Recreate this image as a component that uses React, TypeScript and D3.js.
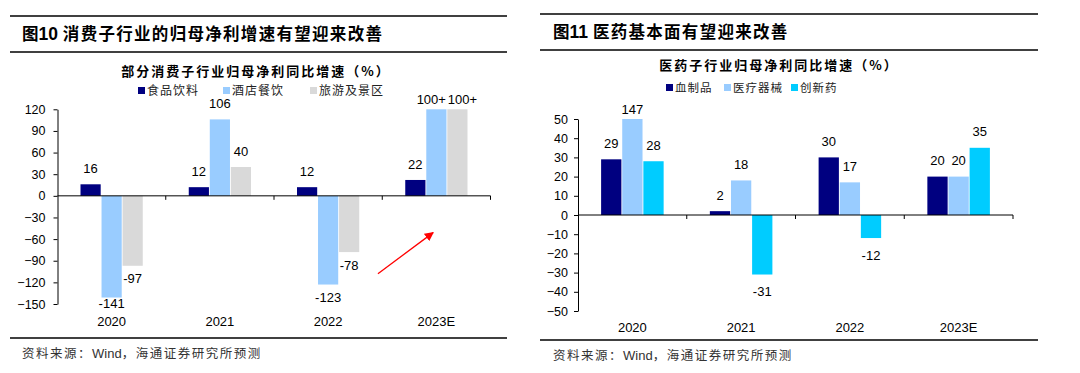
import React, { useEffect, useRef } from 'react';
import * as d3 from 'd3';

// categories shared by both panels
const categories = ['2020', '2021', '2022', '2023E'];

// left panel: consumer sub-sectors
const consumerSeries = ['食品饮料', '酒店餐饮', '旅游及景区'];
const foodBeverage = [16, 12, 12, 22];
const hotelCatering = [-141, 106, -123, 120]; // 2023E capped at axis top (100+)
const tourism = [-97, 40, -78, 120]; // 2023E capped at axis top (100+)
const foodLabels = ['16', '12', '12', '22'];
const hotelLabels = ['-141', '106', '-123', '100+'];
const tourismLabels = ['-97', '40', '-78', '100+'];
const consumerTicks = [120, 90, 60, 30, 0, -30, -60, -90, -120, -150];

// right panel: pharma sub-sectors
const pharmaSeries = ['血制品', '医疗器械', '创新药'];
const bloodProducts = [29, 2, 30, 20];
const medDevices = [50, 18, 17, 20]; // 2020 capped at axis top (147)
const innovativeDrugs = [28, -31, -12, 35];
const bloodLabels = ['29', '2', '30', '20'];
const deviceLabels = ['147', '18', '17', '20'];
const drugLabels = ['28', '-31', '-12', '35'];
const pharmaTicks = [50, 40, 30, 20, 10, 0, -10, -20, -30, -40, -50];

const NUM_FONT = 'Liberation Sans, Arial, sans-serif';
const CJK_FONT = '"Noto Sans CJK SC", sans-serif';

interface PanelConfig {
  left: number;
  right: number;
  topRule: number;
  midRule: number;
  bottomRule: number;
  title: string;
  titleX: number;
  titleY: number;
  chartTitle: string;
  chartTitleX: number;
  chartTitleY: number;
  legendX: number[];
  legendY: number;
  legendFont: number;
  series: string[];
  colors: string[];
  values: number[][];
  labels: string[][];
  ticks: number[];
  domain: [number, number];
  plot: { x0: number; x1: number; yTop: number; yBottom: number };
  tickPad: number;
  catLabelY: number;
  posOffset: number;
  negOffset: number;
  sourceX: number;
  sourceY: number;
  arrow?: boolean;
}

const panels: PanelConfig[] = [
  {
    left: 10,
    right: 507,
    topRule: 16,
    midRule: 52,
    bottomRule: 338,
    title: '图10 消费子行业的归母净利增速有望迎来改善',
    titleX: 22,
    titleY: 40,
    chartTitle: '部分消费子行业归母净利同比增速（%）',
    chartTitleX: 256,
    chartTitleY: 76,
    legendX: [138, 223, 310],
    legendY: 91,
    legendFont: 12,
    series: consumerSeries,
    colors: ['#000080', '#99CCFF', '#D9D9D9'],
    values: [foodBeverage, hotelCatering, tourism],
    labels: [foodLabels, hotelLabels, tourismLabels],
    ticks: consumerTicks,
    domain: [-150, 120],
    plot: { x0: 57.5, x1: 490.5, yTop: 109.3, yBottom: 304 },
    tickPad: 8,
    catLabelY: 321,
    posOffset: 16,
    negOffset: 13,
    sourceX: 22,
    sourceY: 354,
    arrow: true,
  },
  {
    left: 540,
    right: 1038,
    topRule: 14,
    midRule: 50,
    bottomRule: 340,
    title: '图11 医药基本面有望迎来改善',
    titleX: 553,
    titleY: 38,
    chartTitle: '医药子行业归母净利同比增速（%）',
    chartTitleX: 779,
    chartTitleY: 70,
    legendX: [666, 724, 791],
    legendY: 88,
    legendFont: 11.5,
    series: pharmaSeries,
    colors: ['#000080', '#99CCFF', '#00CCFF'],
    values: [bloodProducts, medDevices, innovativeDrugs],
    labels: [bloodLabels, deviceLabels, drugLabels],
    ticks: pharmaTicks,
    domain: [-50, 50],
    plot: { x0: 578, x1: 1013, yTop: 119, yBottom: 311 },
    tickPad: 6,
    catLabelY: 327,
    posOffset: 16,
    negOffset: 17,
    sourceX: 553,
    sourceY: 356,
  },
];

const drawPanel = (svg: d3.Selection<SVGSVGElement, unknown, null, undefined>, p: PanelConfig) => {
  const g = svg.append('g');

  // header rules
  [p.topRule, p.midRule, p.bottomRule].forEach(y => {
    g.append('line')
      .attr('x1', p.left).attr('x2', p.right)
      .attr('y1', y).attr('y2', y)
      .attr('stroke', '#000').attr('stroke-width', 1.5);
  });

  // panel title: figure number in bold sans, rest CJK
  const title = g.append('text')
    .attr('x', p.titleX).attr('y', p.titleY)
    .attr('font-family', CJK_FONT)
    .attr('font-weight', 'bold')
    .attr('font-size', 16.5)
    .attr('fill', '#000');
  const [head, ...rest] = p.title.split(' ');
  title.append('tspan').text(head.slice(0, 1));
  title.append('tspan').attr('font-family', NUM_FONT).attr('font-size', 17.5).text(head.slice(1) + ' ');
  title.append('tspan').attr('letter-spacing', 1.3).text(rest.join(' '));

  // chart title
  g.append('text')
    .attr('x', p.chartTitleX).attr('y', p.chartTitleY)
    .attr('text-anchor', 'middle')
    .attr('font-family', CJK_FONT)
    .attr('font-weight', 'bold')
    .attr('font-size', 13)
    .attr('letter-spacing', 2)
    .attr('fill', '#000')
    .text(p.chartTitle);

  // legend
  p.series.forEach((name, i) => {
    const lg = g.append('g').attr('transform', `translate(${p.legendX[i]},${p.legendY})`);
    lg.append('rect')
      .attr('x', 0).attr('y', -4)
      .attr('width', 7).attr('height', 7)
      .attr('fill', p.colors[i]);
    lg.append('text')
      .attr('x', 9).attr('y', 4)
      .attr('font-family', CJK_FONT)
      .attr('font-size', p.legendFont)
      .attr('letter-spacing', 1)
      .attr('fill', '#222')
      .text(name);
  });

  // scales
  const y = d3.scaleLinear().domain(p.domain).range([p.plot.yBottom, p.plot.yTop]);
  const x0 = d3.scaleBand<string>().domain(categories).range([p.plot.x0, p.plot.x1]).padding(0);
  const groupW = x0.bandwidth() * 0.575;
  const x1 = d3.scaleBand<string>().domain(p.series).range([0, groupW]).paddingInner(0.04);

  // bars + label positions
  categories.forEach((cat, ci) => {
    const labels: { x: number; y: number; text: string; w: number }[] = [];
    p.series.forEach((name, si) => {
      const v = p.values[si][ci];
      const bx = (x0(cat) as number) + (x0.bandwidth() - groupW) / 2 + (x1(name) as number);
      g.append('rect')
        .attr('x', bx)
        .attr('y', Math.min(y(v), y(0)))
        .attr('width', x1.bandwidth())
        .attr('height', Math.abs(y(v) - y(0)))
        .attr('fill', p.colors[si]);

      const ly = v >= 0
        ? Math.max(y(v) - p.posOffset, p.plot.yTop - 10)
        : Math.min(y(v) + p.negOffset, p.plot.yBottom - 1);
      const text = p.labels[si][ci];
      labels.push({ x: bx + x1.bandwidth() / 2, y: ly, text, w: text.length * 7.3 });
    });

    // push apart labels sitting on the same line that would collide
    for (let i = 1; i < labels.length; i++) {
      const a = labels[i - 1];
      const b = labels[i];
      if (Math.abs(a.y - b.y) < 10) {
        const need = (a.w + b.w) / 2 + 2 - (b.x - a.x);
        if (need > 0) {
          a.x -= need / 2;
          b.x += need / 2;
        }
      }
    }

    labels.forEach(l => {
      g.append('text')
        .attr('x', l.x)
        .attr('y', l.y)
        .attr('dy', '0.35em')
        .attr('text-anchor', 'middle')
        .attr('font-family', NUM_FONT)
        .attr('font-size', 13)
        .attr('fill', '#000')
        .text(l.text);
    });
  });

  // y axis
  const yAxis = g.append('g')
    .attr('transform', `translate(${p.plot.x0},0)`)
    .call(d3.axisLeft(y).tickValues(p.ticks).tickSize(4).tickPadding(p.tickPad).tickSizeOuter(0));
  yAxis.selectAll('text')
    .attr('font-family', NUM_FONT)
    .attr('font-size', 12.5)
    .attr('fill', '#000');
  yAxis.selectAll('line, path').attr('stroke', '#000');

  // x axis at zero with boundary ticks
  const xg = g.append('g');
  xg.append('line')
    .attr('x1', p.plot.x0).attr('x2', p.plot.x1)
    .attr('y1', y(0)).attr('y2', y(0))
    .attr('stroke', '#000');
  categories.forEach(cat => {
    const bx = (x0(cat) as number) + x0.step();
    xg.append('line')
      .attr('x1', bx).attr('x2', bx)
      .attr('y1', y(0)).attr('y2', y(0) + 4)
      .attr('stroke', '#000');
    xg.append('text')
      .attr('x', (x0(cat) as number) + x0.bandwidth() / 2)
      .attr('y', p.catLabelY)
      .attr('dy', '0.35em')
      .attr('text-anchor', 'middle')
      .attr('font-family', NUM_FONT)
      .attr('font-size', 13)
      .attr('fill', '#000')
      .text(cat);
  });

  // trend arrow
  if (p.arrow) {
    const ax1 = (x0('2022') as number) + x0.step() * 0.96;
    const ax2 = (x0('2023E') as number) + x0.step() * 0.47;
    g.append('line')
      .attr('x1', ax1).attr('y1', y(-108))
      .attr('x2', ax2).attr('y2', y(-51))
      .attr('stroke', '#FF0000')
      .attr('stroke-width', 1.3)
      .attr('marker-end', 'url(#redArrow)');
  }

  // source note
  const src = g.append('text')
    .attr('x', p.sourceX).attr('y', p.sourceY)
    .attr('dy', '0.35em')
    .attr('font-family', CJK_FONT)
    .attr('font-size', 12.5)
    .attr('fill', '#333');
  src.append('tspan').attr('letter-spacing', 1.5).text('资料来源：');
  src.append('tspan').attr('font-family', NUM_FONT).attr('font-size', 13).text('Wind');
  src.append('tspan').attr('letter-spacing', 1.5).text('，海通证券研究所预测');
};

const App: React.FC = () => {
  const svgRef = useRef<SVGSVGElement>(null);

  useEffect(() => {
    if (!svgRef.current) return;
    const svg = d3.select(svgRef.current);
    svg.selectAll('*').remove();

    svg.append('defs')
      .append('marker')
      .attr('id', 'redArrow')
      .attr('viewBox', '0 0 10 10')
      .attr('refX', 9).attr('refY', 5)
      .attr('markerWidth', 7).attr('markerHeight', 7)
      .attr('orient', 'auto')
      .append('path')
      .attr('d', 'M0,0 L10,5 L0,10 Z')
      .attr('fill', '#FF0000');

    panels.forEach(p => drawPanel(svg, p));
  }, []);

  return (
    <svg
      ref={svgRef}
      width={1080}
      height={373}
      style={{ position: 'absolute', left: 0, top: 0, background: '#fff' }}
    />
  );
};

export default App;
